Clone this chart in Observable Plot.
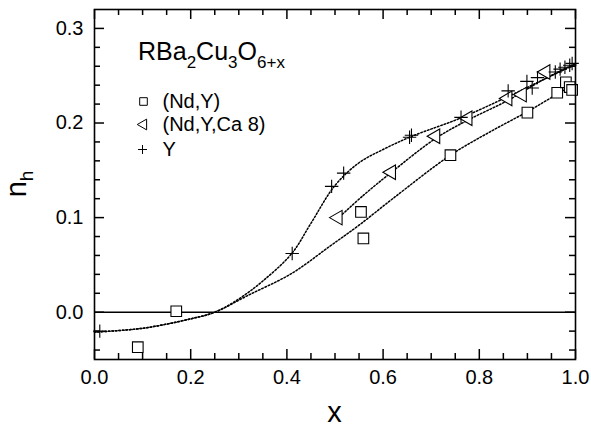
<!DOCTYPE html>
<html><head><meta charset="utf-8">
<script src="https://cdn.jsdelivr.net/npm/d3@7"></script>
<script src="https://cdn.jsdelivr.net/npm/@observablehq/plot@0.6"></script>
<style>body{margin:0;background:#fff} svg{display:block}</style>
</head><body><div id="chart"></div>
<script>
// ---- data ----
const ndY_x = [0.09, 0.17, 0.554, 0.559, 0.74, 0.90, 0.962, 0.98, 0.988, 0.993];
const ndY_y = [-0.037, 0.001, 0.106, 0.078, 0.166, 0.211, 0.232, 0.243, 0.238, 0.235];

const ndYCa_x = [0.506, 0.617, 0.709, 0.776, 0.859, 0.889, 0.938];
const ndYCa_y = [0.100, 0.148, 0.186, 0.205, 0.226, 0.230, 0.254];

const y_x = [0.011, 0.411, 0.493, 0.518, 0.655, 0.659, 0.762, 0.86, 0.899, 0.91, 0.921, 0.958, 0.968, 0.978, 0.988, 0.993];
const y_y = [-0.02, 0.062, 0.133, 0.147, 0.185, 0.187, 0.206, 0.234, 0.244, 0.237, 0.248, 0.254, 0.257, 0.259, 0.261, 0.263];

// fitted (dotted) guide curves
const fitY_x = [0, 0.1, 0.2, 0.25, 0.3, 0.35, 0.41, 0.45, 0.5, 0.55, 0.6, 0.66, 0.76, 0.86, 0.93, 1.0];
const fitY_y = [-0.021, -0.017, -0.007, 0.0, 0.014, 0.033, 0.062, 0.094, 0.134, 0.158, 0.172, 0.186, 0.205, 0.228, 0.245, 0.262];

const fitNdY_x = [0, 0.1, 0.2, 0.25, 0.32, 0.41, 0.49, 0.55, 0.62, 0.74, 0.82, 0.9, 0.96, 1.0];
const fitNdY_y = [-0.021, -0.017, -0.007, 0.0, 0.018, 0.041, 0.07, 0.092, 0.12, 0.166, 0.19, 0.212, 0.23, 0.242];

const fitNdYCa_x = [0.51, 0.56, 0.62, 0.71, 0.78, 0.86, 0.93, 1.0];
const fitNdYCa_y = [0.101, 0.124, 0.149, 0.184, 0.204, 0.224, 0.245, 0.263];

const xMajor = [0, 0.2, 0.4, 0.6, 0.8, 1.0];
const xMinor = [0.05, 0.1, 0.15, 0.25, 0.3, 0.35, 0.45, 0.5, 0.55, 0.65, 0.7, 0.75, 0.85, 0.9, 0.95];
const yMajor = [0, 0.1, 0.2, 0.3];
const yMinor = [-0.04, -0.02, 0.02, 0.04, 0.06, 0.08, 0.12, 0.14, 0.16, 0.18, 0.22, 0.24, 0.26, 0.28];

const legendLabels = ["(Nd,Y)", "(Nd,Y,Ca 8)", "Y"];

// ---- layout ----
const W = 591, H = 430;
const mt = 9, mb = 71, ml = 94, mr = 16;
const innerH = H - mt - mb, innerW = W - ml - mr;
const majLen = 10, minLen = 6;
const font = "'Liberation Sans', Arial, sans-serif";
const tickStyle = {stroke: "black", strokeWidth: 1.5};

function xTicks(vals, len) {
  return [
    Plot.ruleX(vals, {insetTop: innerH - len, ...tickStyle}),
    Plot.ruleX(vals, {insetBottom: innerH - len, ...tickStyle})
  ];
}
function yTicks(vals, len) {
  return [
    Plot.ruleY(vals, {insetRight: innerW - len, ...tickStyle}),
    Plot.ruleY(vals, {insetLeft: innerW - len, ...tickStyle})
  ];
}
const dotted = {stroke: "black", strokeWidth: 1.5, strokeDasharray: "1.6,1.9", curve: "catmull-rom"};

const legendDy = [92, 115, 140];

const chart = Plot.plot({
  width: W, height: H,
  marginTop: mt, marginBottom: mb, marginLeft: ml, marginRight: mr,
  style: {fontFamily: font, fontSize: "20px", color: "black", background: "white"},
  x: {domain: [0, 1]},
  y: {domain: [-0.05, 0.32]},
  marks: [
    Plot.axisX(xMajor, {tickSize: 0, tickPadding: 10, tickFormat: d3.format(".1f"), label: null, fontSize: 20}),
    Plot.axisY(yMajor, {tickSize: 0, tickPadding: 11, tickFormat: d3.format(".1f"), label: null, fontSize: 20}),
    ...xTicks(xMajor, majLen), ...xTicks(xMinor, minLen),
    ...yTicks(yMajor, majLen), ...yTicks(yMinor, minLen),
    Plot.ruleY([0], {stroke: "black", strokeWidth: 1.5}),
    Plot.line(fitY_x, {x: fitY_x, y: fitY_y, ...dotted}),
    Plot.line(fitNdY_x, {x: fitNdY_x, y: fitNdY_y, ...dotted}),
    Plot.line(fitNdYCa_x, {x: fitNdYCa_x, y: fitNdYCa_y, ...dotted}),
    Plot.dot(ndY_x, {x: ndY_x, y: ndY_y, symbol: "square", r: 6, fill: "white", stroke: "black", strokeWidth: 1.1}),
    Plot.dot(ndYCa_x, {x: ndYCa_x, y: ndYCa_y, symbol: "triangle", rotate: -90, r: 5.4, fill: "white", stroke: "black", strokeWidth: 1.1}),
    Plot.dot(y_x, {x: y_x, y: y_y, symbol: "plus", r: 4.4, stroke: "black", strokeWidth: 1.1}),
    // legend
    Plot.dot([legendLabels[0]], {frameAnchor: "top-left", dx: 49, dy: legendDy[0], symbol: "square", r: 4.3, fill: "white", stroke: "black", strokeWidth: 1}),
    Plot.dot([legendLabels[1]], {frameAnchor: "top-left", dx: 49, dy: legendDy[1], symbol: "triangle", rotate: -90, r: 4, fill: "white", stroke: "black", strokeWidth: 1}),
    Plot.dot([legendLabels[2]], {frameAnchor: "top-left", dx: 48, dy: legendDy[2], symbol: "plus", r: 3, stroke: "black", strokeWidth: 1}),
    ...legendLabels.map((t, i) => Plot.text([t], {text: d => d, frameAnchor: "top-left", dx: 68, dy: legendDy[i], textAnchor: "start", lineAnchor: "middle", fontSize: 20})),
    Plot.frame({stroke: "black", strokeWidth: 1.6})
  ]
});

const svg = d3.select(chart);
// compound title
const t = svg.append("text").attr("x", ml + 44).attr("y", 60).attr("text-anchor", "start")
  .attr("font-family", font).attr("font-size", 25).attr("fill", "black");
t.append("tspan").text("RBa");
t.append("tspan").attr("font-size", 17).attr("dy", 8).text("2");
t.append("tspan").attr("dy", -8).text("Cu");
t.append("tspan").attr("font-size", 17).attr("dy", 8).text("3");
t.append("tspan").attr("dy", -8).text("O");
t.append("tspan").attr("font-size", 17).attr("dy", 8).text("6+x");

// axis titles
svg.append("text").attr("x", ml + innerW / 2).attr("y", 422)
  .attr("text-anchor", "middle").attr("font-family", font).attr("font-size", 29).attr("fill", "black").text("x");
const yl = svg.append("text").attr("transform", `translate(26,${mt + innerH / 2}) rotate(-90)`)
  .attr("text-anchor", "middle").attr("font-family", font).attr("font-size", 29).attr("fill", "black");
yl.append("tspan").text("n");
yl.append("tspan").attr("font-size", 19).attr("dy", 7).text("h");

document.getElementById("chart").appendChild(chart);
</script>
</body></html>
